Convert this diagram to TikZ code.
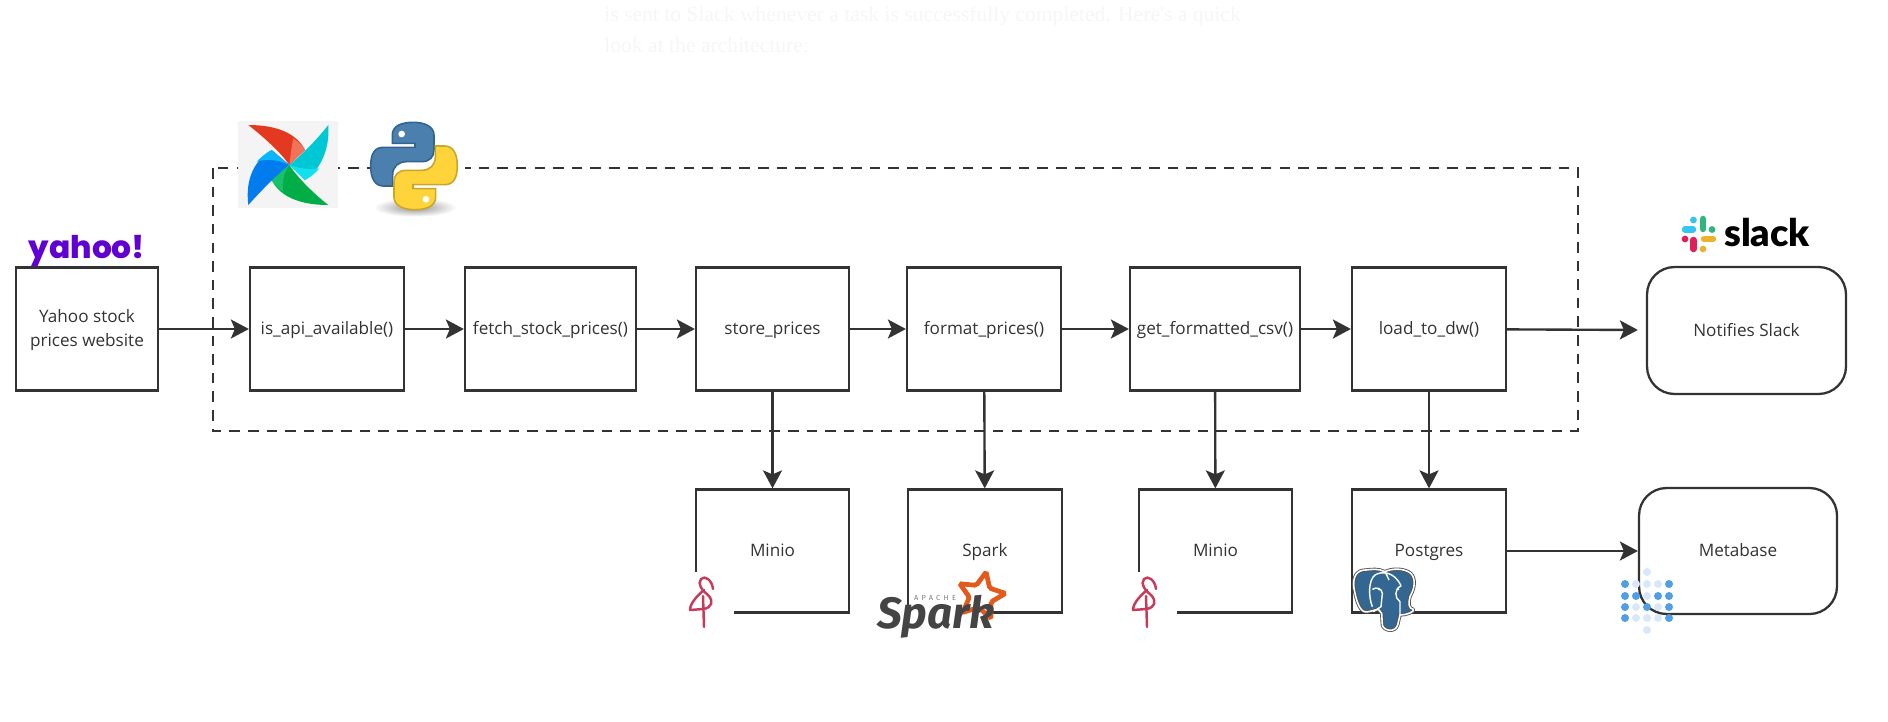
\documentclass[tikz,border=0pt]{standalone}
\usepackage{fontspec}
\usepackage{xcolor}
\usepackage{tikz}
\usetikzlibrary{arrows.meta,shapes.geometric}
\setmainfont{Open Sans}
\newfontfamily\yahoofont{Poppins}[BoldFont={Poppins ExtraBold}]
\newfontfamily\slackfont{Lato}[BoldFont={Lato Black}]
\newfontfamily\sparkfont{Fira Sans}
\newfontfamily\pagefont{Liberation Serif}
\definecolor{ink}{HTML}{333333}
\definecolor{pagetext}{HTML}{F6F6F6}
\definecolor{flamingo}{HTML}{C73A5A}
\definecolor{pgblue}{HTML}{336791}
\definecolor{metadark}{HTML}{509EE3}
\definecolor{metalight}{HTML}{D8E8F8}
\definecolor{afred}{HTML}{E43921}
\definecolor{afsalmon}{HTML}{F4725A}
\definecolor{afteal}{HTML}{00C7D4}
\definecolor{afcyan}{HTML}{11E1EE}
\definecolor{afgreen}{HTML}{00AD46}
\definecolor{aflime}{HTML}{19C26A}
\definecolor{afblue}{HTML}{017CEE}
\definecolor{afsky}{HTML}{0CB6FF}
\definecolor{pyblue}{HTML}{4B7FAE}
\definecolor{pyblueline}{HTML}{33648F}
\definecolor{pyyellow}{HTML}{FFD43B}
\definecolor{pyyellowline}{HTML}{C9A62A}
\definecolor{yahoopurple}{HTML}{6001D2}
\definecolor{slackblue}{HTML}{36C5F0}
\definecolor{slackgreen}{HTML}{2EB67D}
\definecolor{slackred}{HTML}{E01E5A}
\definecolor{slackyellow}{HTML}{ECB22E}
\definecolor{sparkorange}{HTML}{E25A1C}
\definecolor{sparkgray}{HTML}{444444}

\begin{document}
\begin{tikzpicture}[x=0.02cm, y=-0.02cm,
    taskbox/.style={draw=ink, line width=1.3pt, text=ink, font=\fontsize{9.75}{13.5}\selectfont, align=center, minimum height=2.46cm, text height=8pt, text depth=1.6pt},
    endbox/.style={taskbox, rounded corners=0.55cm},
    link/.style={draw=ink, line width=1.35pt, -{Stealth[length=0.36cm,width=0.38cm,inset=0.08cm]}},
    frameline/.style={ink, line width=1.3pt, dash pattern=on 6pt off 4.6pt},
    pagetxt/.style={text=pagetext, anchor=west, font=\pagefont\fontsize{12.3}{15}\selectfont, inner sep=0pt}]
    \useasboundingbox (0,0) rectangle (1888,721);

    % faint page text behind the figure
    \node[pagetxt] (line1) at (604,16) {is sent to Slack whenever a task is successfully completed. Here's a quick};
    \node[pagetxt] (line2) at (604,45) {look at the architecture:};

    % dag frame
    \draw[frameline] (213,168) rectangle (1578,431);

    % tasks
    \node[taskbox, minimum width=2.84cm, text height=21.5pt] (yahoo) at (87,329) {Yahoo stock\\prices website};
    \node[taskbox, minimum width=3.08cm] (isapi) at (327,329) {is\_api\_available()};
    \node[taskbox, minimum width=3.42cm] (fetch) at (550.5,329) {fetch\_stock\_prices()};
    \node[taskbox, minimum width=3.06cm] (store) at (772.5,329) {store\_prices};
    \node[taskbox, minimum width=3.08cm] (format) at (984,329) {format\_prices()};
    \node[taskbox, minimum width=3.40cm] (getcsv) at (1215,329) {get\_formatted\_csv()};
    \node[taskbox, minimum width=3.08cm] (load) at (1429,329) {load\_to\_dw()};
    \node[endbox, minimum width=3.98cm, minimum height=2.54cm] (slack) at (1746.5,330.5) {Notifies Slack};

    % services
    \node[taskbox, minimum width=3.06cm] (minioa) at (772.5,551) {Minio};
    \node[taskbox, minimum width=3.08cm] (spark) at (985,551) {Spark};
    \node[taskbox, minimum width=3.06cm] (miniob) at (1215.5,551) {Minio};
    \node[taskbox, minimum width=3.08cm] (postgres) at (1429,551) {Postgres};
    \node[endbox, minimum width=3.96cm, minimum height=2.52cm] (metabase) at (1738,551) {Metabase};

    \draw[link] (yahoo) -- (isapi);
    \draw[link] (isapi) -- (fetch);
    \draw[link] (fetch) -- (store);
    \draw[link] (store) -- (format);
    \draw[link] (format) -- (getcsv);
    \draw[link] (getcsv) -- (load);
    \draw[link, shorten >=0.16cm] (load) -- (slack);
    \draw[link] (store) -- (minioa);
    \draw[link] (format) -- (spark);
    \draw[link] (getcsv) -- (miniob);
    \draw[link] (load) -- (postgres);
    \draw[link] (postgres) -- (metabase);

    % airflow
    \begin{scope}[shift={(0,90)}, x=0.00667cm, y=-0.00667cm]
        \fill[gray!9] (715,92) rectangle (1015,355);
        \fill[afred] (745,105) .. controls (830,105) and (890,130) .. (915,180) -- (868,225) .. controls (845,190) and (790,140) .. (745,105);
        \fill[afsalmon] (880,145) .. controls (895,155) and (908,168) .. (915,180) -- (868,225) .. controls (872,195) and (875,170) .. (880,145);
        \fill[afteal] (985,105) .. controls (990,180) and (960,240) .. (915,270) -- (868,225) .. controls (900,200) and (950,150) .. (985,105);
        \fill[afcyan] (868,225) -- (915,270) .. controls (935,260) and (950,245) .. (958,235) .. controls (930,240) and (895,235) .. (868,225);
        \fill[afgreen] (985,345) .. controls (900,345) and (840,320) .. (815,270) -- (868,225) .. controls (890,260) and (940,310) .. (985,345);
        \fill[aflime] (868,225) -- (815,270) .. controls (825,285) and (838,298) .. (850,305) .. controls (845,280) and (850,250) .. (868,225);
        \fill[afblue] (745,345) .. controls (735,265) and (765,210) .. (815,180) -- (868,225) .. controls (835,250) and (785,300) .. (745,345);
        \fill[afsky] (868,225) -- (815,180) .. controls (795,190) and (780,205) .. (770,215) .. controls (800,205) and (840,210) .. (868,225);
    \end{scope}

    % python
    \begin{scope}[shift={(0,90)}, x=0.00667cm, y=-0.00667cm]
        \fill[white] (1040,95) rectangle (1395,385);
        \draw[frameline] (1045,233) -- (1110,233);
        \shade[inner color=gray!85, outer color=white] (1245,352) ellipse [x radius=125, y radius=28];
        \filldraw[fill=pyblue, draw=pyblueline, line width=0.9pt] (1240,97) .. controls (1200,97) and (1177,110) .. (1177,135) -- (1177,160) -- (1245,160) -- (1245,172) -- (1150,172) .. controls (1125,172) and (1112,190) .. (1112,228) .. controls (1112,265) and (1125,288) .. (1150,288) -- (1178,288) -- (1178,255) .. controls (1178,230) and (1195,215) .. (1220,215) -- (1265,215) .. controls (1290,215) and (1302,200) .. (1302,180) -- (1302,135) .. controls (1302,110) and (1275,97) .. (1240,97) -- cycle;
        \filldraw[fill=pyyellow, draw=pyyellowline, line width=0.9pt] (1244,359) .. controls (1284,359) and (1307,346) .. (1307,321) -- (1307,296) -- (1239,296) -- (1239,284) -- (1334,284) .. controls (1359,284) and (1372,266) .. (1372,228) .. controls (1372,191) and (1359,168) .. (1334,168) -- (1306,168) -- (1306,201) .. controls (1306,226) and (1289,241) .. (1264,241) -- (1219,241) .. controls (1194,241) and (1182,256) .. (1182,276) -- (1182,321) .. controls (1182,346) and (1209,359) .. (1244,359) -- cycle;
        \fill[white] (1205,132) circle [radius=10];
        \fill[white] (1278,328) circle [radius=10];
    \end{scope}

    % yahoo logo
    \node[text=yahoopurple, font=\yahoofont\bfseries\fontsize{17.8}{20}\selectfont, inner sep=0pt] (yahoologo) at (87,251) {yahoo!};

    % slack logo
    \foreach \col/\xa/\ya/\xb/\yb/\xc/\yc in {
        slackblue/-14/-4.5/-6/-4.5/-5.6/-14,
        slackgreen/4/-15/4/-5/13/-4.5,
        slackred/-5.6/6/-5.6/15/-14/5,
        slackyellow/5/5/14/5/4/15}
    {
        \draw[\col, line width=0.13cm, line cap=round] (1699+\xa,234+\ya) -- (1699+\xb,234+\yb);
        \fill[\col] (1699+\xc,234+\yc) circle [radius=3.4];
    }
    \node[font=\slackfont\bfseries\fontsize{21.5}{22}\selectfont, inner sep=0pt] (slacklogo) at (1767,233) {slack};

    % minio logos
    \foreach \dx in {0,443}
    {
        \begin{scope}[shift={(\dx,0)}]
            \fill[white] (685,572) rectangle (734,625);
            \draw[flamingo, line width=1.4pt, line join=round, line cap=round] (713,589) .. controls (712,580) and (705,575) .. (701,579) .. controls (697,584) and (702,590) .. (708,595) .. controls (714,601) and (712,608) .. (703,609) -- (690,610) .. controls (690,603) and (698,595) .. (704,590) (703,596) -- (704,627);
        \end{scope}
    }

    % spark logo
    \fill[white] (875,611) rectangle (982,645);
    \node[star, star points=5, star point ratio=2.1, draw=sparkorange, line width=2.7pt, rounded corners=1pt, rotate=-12, minimum size=0.98cm, inner sep=0pt] (sparkstar) at (981,596) {};
    \node[font=\sparkfont\bfseries\itshape\fontsize{25}{25}\selectfont, text=sparkgray, inner sep=0pt] (sparktext) at (936,617) {Spark};
    \node[font=\sparkfont\fontsize{4.2}{5}\selectfont\addfontfeature{LetterSpace=45}, text=sparkgray!70, inner sep=0pt] (apache) at (935,598) {APACHE};

    % postgres logo
    \begin{scope}[shift={(1345,560)}, x=0.00667cm, y=-0.00667cm]
        \path[fill=pgblue, draw=ink!85, line width=1.9pt, line join=round] (62,30) .. controls (35,30) and (22,50) .. (27,85) .. controls (32,115) and (42,150) .. (58,155) .. controls (70,158) and (85,150) .. (100,148) -- (110,160) -- (112,195) .. controls (115,212) and (150,220) .. (158,195) -- (165,165) .. controls (185,165) and (210,155) .. (205,148) .. controls (190,145) and (190,130) .. (195,110) .. controls (215,75) and (210,45) .. (190,35) .. controls (170,25) and (140,25) .. (120,35) .. controls (100,25) and (80,28) .. (62,30) -- cycle;
        \draw[white, line width=0.9pt, line join=round] (62,30) .. controls (35,30) and (22,50) .. (27,85) .. controls (32,115) and (42,150) .. (58,155) .. controls (70,158) and (85,150) .. (100,148) -- (110,160) -- (112,195) .. controls (115,212) and (150,220) .. (158,195) -- (165,165) .. controls (185,165) and (210,155) .. (205,148) .. controls (190,145) and (190,130) .. (195,110) .. controls (215,75) and (210,45) .. (190,35) .. controls (170,25) and (140,25) .. (120,35) .. controls (100,25) and (80,28) .. (62,30) -- cycle;
        \draw[white, line width=0.8pt, line join=round] (82,140) .. controls (70,110) and (70,60) .. (90,45) .. controls (110,32) and (150,35) .. (168,78) .. controls (148,85) and (148,115) .. (165,125) -- (165,165)
            (82,88) .. controls (95,80) and (110,85) .. (112,100) -- (108,140) -- (85,155)
            (120,35) -- (132,60);
        \fill[white] (102,89) circle [radius=3] (160,88) circle [radius=3];
    \end{scope}

    % metabase logo
    \foreach \px/\py/\tone in {
        1625/584/metadark, 1625/596/metadark, 1625/607/metadark, 1625/618/metadark,
        1669/584/metadark, 1669/596/metadark, 1669/607/metadark, 1669/618/metadark,
        1636/596/metadark, 1647/607/metadark, 1658/596/metadark,
        1636/584/metalight, 1636/607/metalight, 1636/618/metalight,
        1647/572/metalight, 1647/584/metalight, 1647/596/metalight, 1647/618/metalight, 1647/630/metalight,
        1658/584/metalight, 1658/607/metalight, 1658/618/metalight}
    {
        \fill[\tone] (\px,\py) circle [radius=4];
    }
\end{tikzpicture}
\end{document}
